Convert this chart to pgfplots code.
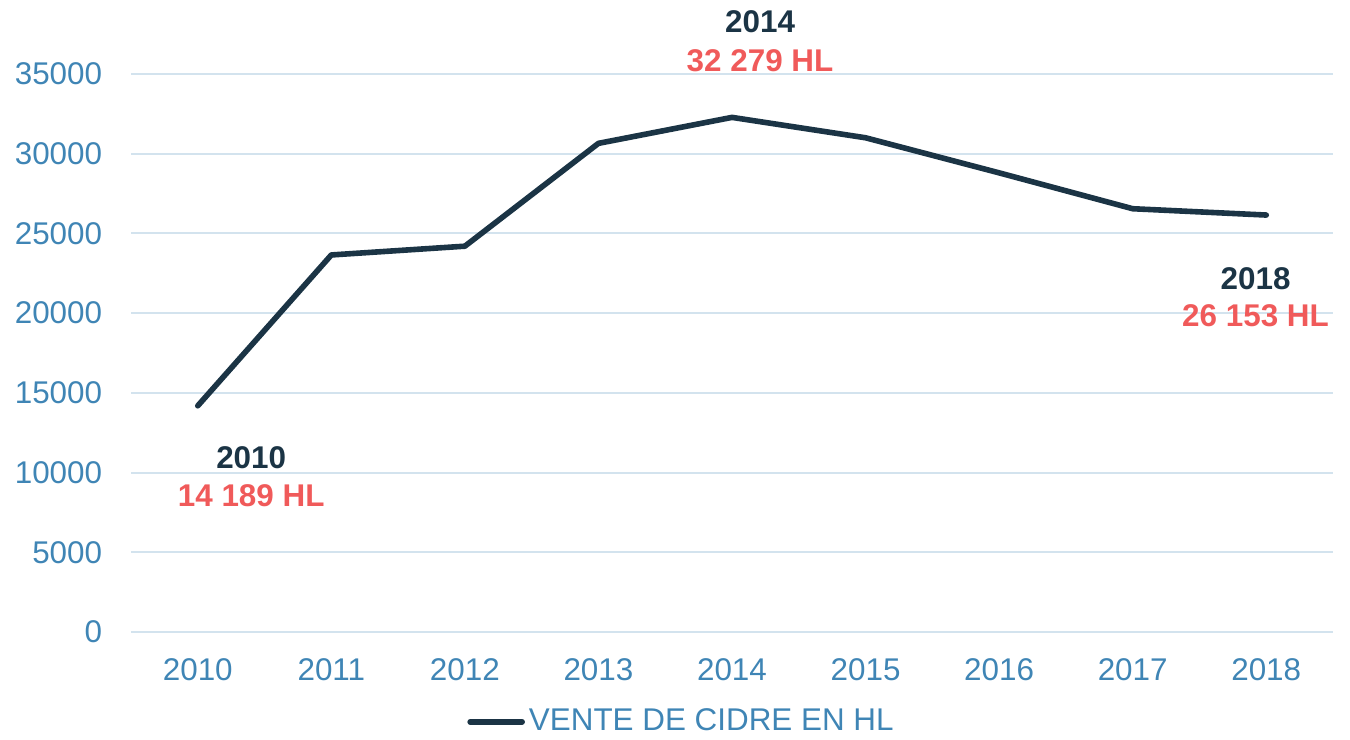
\documentclass[border=0pt]{standalone}
\usepackage{pgfplots}
\pgfplotsset{compat=1.18}
\usepackage{fontspec}
\setmainfont{Liberation Sans}
\definecolor{navy}{HTML}{1B3445}
\definecolor{tblue}{HTML}{3F85B5}
\definecolor{lred}{HTML}{F05A5A}
\definecolor{gridc}{HTML}{D3E3EE}
\begin{document}
\fontsize{15.7}{18}\selectfont
\begin{tikzpicture}
\begin{axis}[
  name=ax,
  at={(0,0)}, anchor=south west,
  scale only axis,
  width=601pt, height=279pt,
  xmin=2009.5, xmax=2018.5,
  ymin=0, ymax=35000,
  xtick={2010,2011,...,2018},
  ytick={0,5000,...,35000},
  scaled ticks=false,
  axis line style={draw=none},
  major tick length=0pt,
  ymajorgrids,
  grid style={gridc, line width=1pt},
  clip=false,
  /pgf/number format/1000 sep={},
  /pgf/number format/assume math mode=true,
  tick label style={font=\fontsize{15.7}{18}\selectfont, text=tblue},
  yticklabel style={xshift=-9pt},
  xticklabel style={yshift=-8pt},
  legend style={at={(0.2795,-0.161)}, anchor=west, draw=none, fill=none,
    inner sep=0pt, font=\fontsize{15.7}{18}\selectfont, text=tblue},
  legend cell align=left,
  legend image code/.code={\draw[#1, line cap=round] (0pt,0pt) -- (26pt,0pt);},
]
\addplot[navy, line width=2.8pt, line join=round, line cap=round] coordinates {
  (2010,14189) (2011,23650) (2012,24200) (2013,30650) (2014,32279)
  (2015,31000) (2016,28800) (2017,26550) (2018,26153)
};
\addlegendentry{VENTE DE CIDRE EN HL}
\node[font=\bfseries, text=navy] at (axis cs:2014.21,38264) {2014};
\node[font=\bfseries, text=lred] at (axis cs:2014.21,35817) {32 279 HL};
\node[font=\bfseries, text=navy] at (axis cs:2017.92,22143) {2018};
\node[font=\bfseries, text=lred] at (axis cs:2017.92,19822) {26 153 HL};
\node[font=\bfseries, text=navy] at (axis cs:2010.40,10915) {2010};
\node[font=\bfseries, text=lred] at (axis cs:2010.40,8531) {14 189 HL};
\end{axis}
\pgfresetboundingbox
\useasboundingbox ([xshift=-65.5pt,yshift=-53.5pt]ax.south west) rectangle ([xshift=8.5pt,yshift=37pt]ax.north east);
\end{tikzpicture}
\end{document}
